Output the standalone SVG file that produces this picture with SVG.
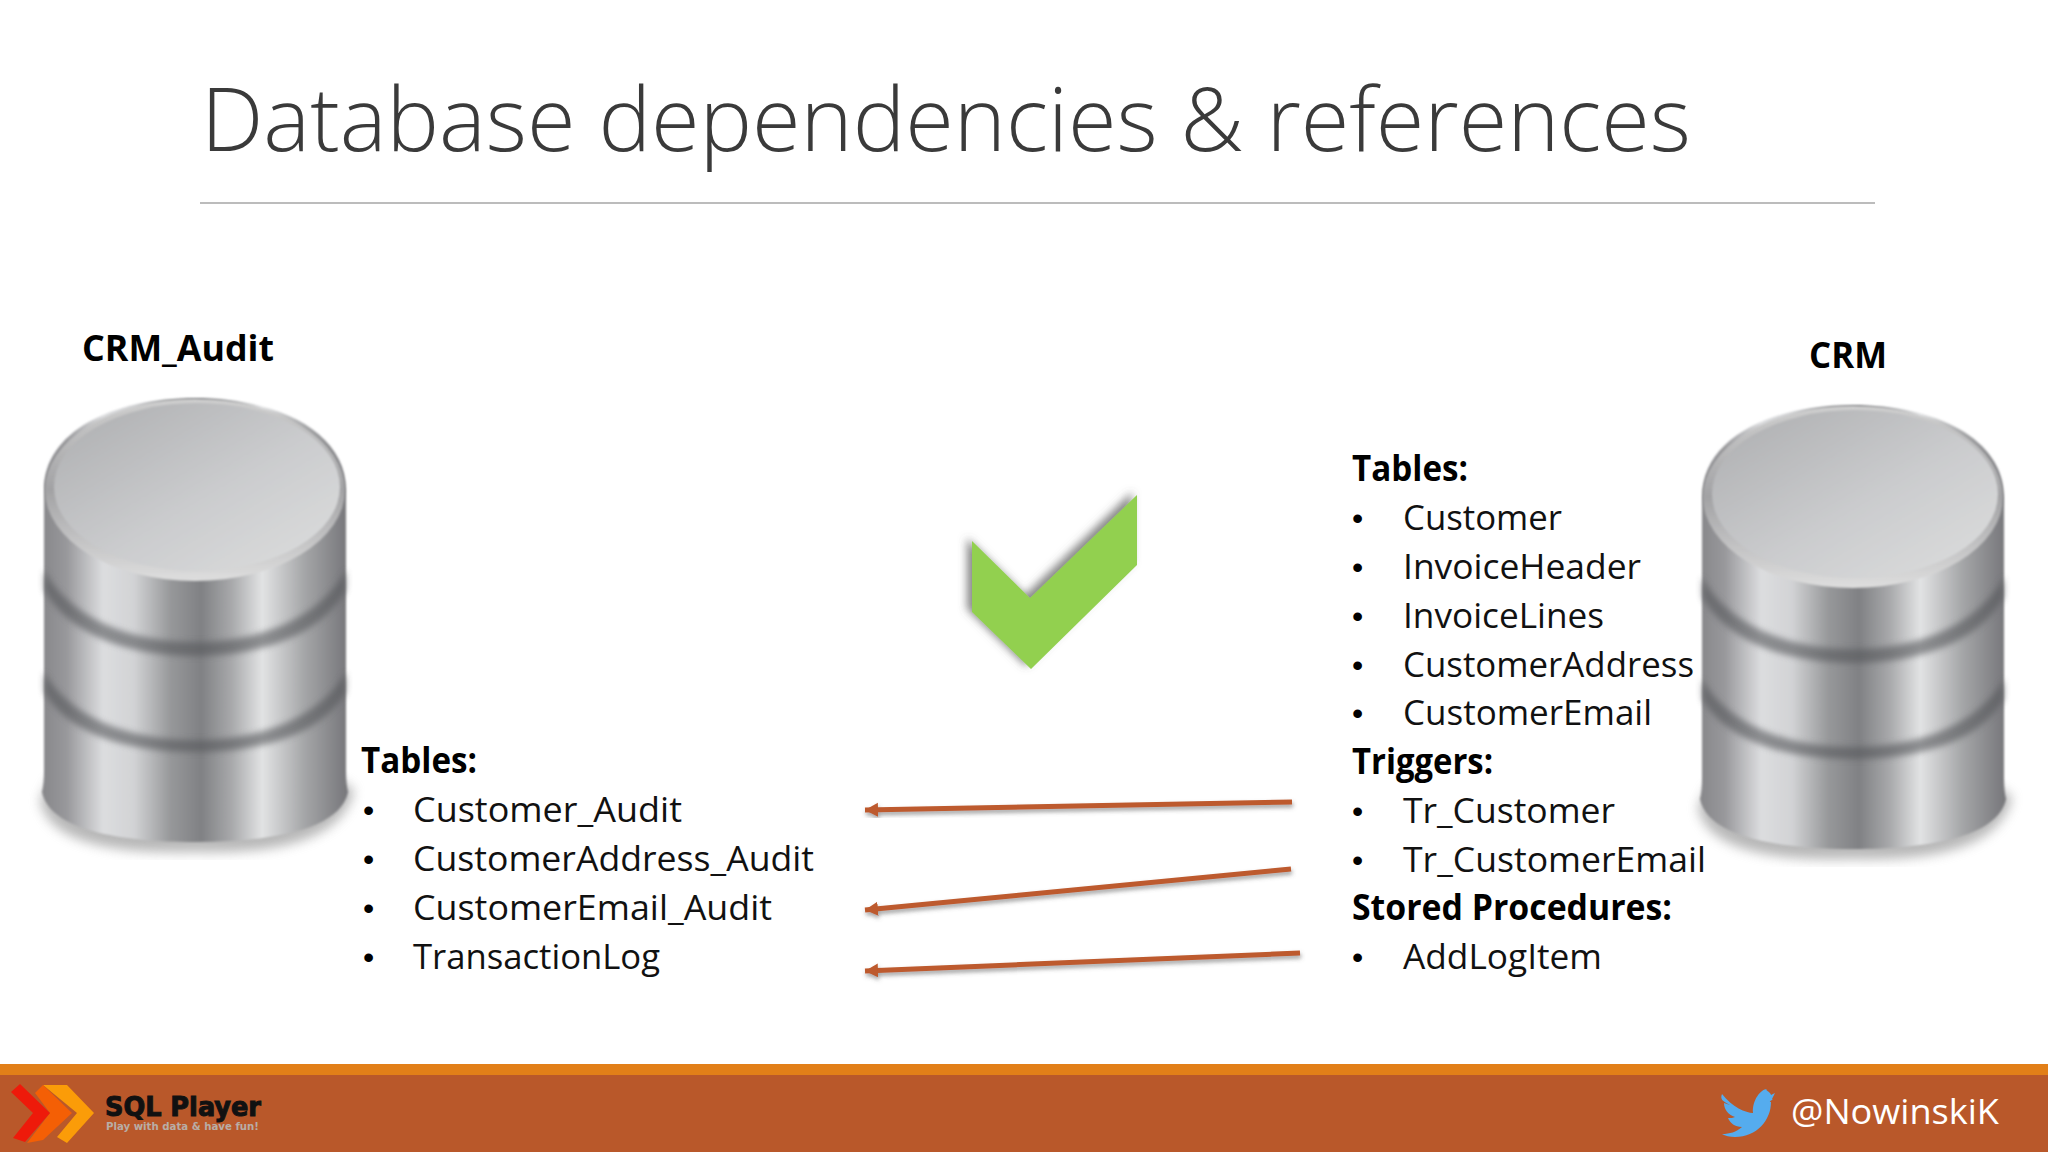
<svg xmlns="http://www.w3.org/2000/svg" width="2048" height="1152" viewBox="0 0 2048 1152">
<style>
.t{font-family:"Open Sans","Noto Sans",sans-serif;font-size:35px;fill:#111}
.b{font-weight:700;fill:#000}
.d{font-family:"Liberation Sans",sans-serif;font-size:32px;fill:#000}
.c{stroke:#bd5a2d;stroke-width:5;fill:none;marker-end:url(#ah);filter:url(#ls)}
</style>
<defs>
<marker id="ah" markerUnits="userSpaceOnUse" markerWidth="16" markerHeight="16" refX="13" refY="7" orient="auto"><path d="M0 7L13 0V14Z" fill="#bd5a2d" transform="rotate(180 6.5 7)"/></marker>
<linearGradient id="m" x1="0" x2="1" y1="0" y2="0">
<stop offset="0" stop-color="#87878a"/><stop offset=".08" stop-color="#98989b"/><stop offset=".2" stop-color="#dcdddf"/><stop offset=".3" stop-color="#d2d3d5"/><stop offset=".42" stop-color="#97989a"/><stop offset=".52" stop-color="#808184"/><stop offset=".62" stop-color="#a8a9ab"/><stop offset=".72" stop-color="#e2e3e4"/><stop offset=".86" stop-color="#a4a5a7"/><stop offset="1" stop-color="#76767a"/>
</linearGradient>
<linearGradient id="top" x1="0" x2="1" y1="0" y2="1"><stop offset="0" stop-color="#acadaf"/><stop offset=".55" stop-color="#cbccce"/><stop offset="1" stop-color="#dddede"/></linearGradient>
<linearGradient id="rim" x1="0" x2="0" y1="0" y2="1"><stop offset="0" stop-color="#cfcfcf"/><stop offset=".5" stop-color="#a2a2a4"/><stop offset="1" stop-color="#dedede"/></linearGradient>
<filter id="ds" x="-10%" y="-10%" width="120%" height="120%"><feGaussianBlur stdDeviation="6"/></filter>
<filter id="s1" x="-5%" y="-5%" width="110%" height="110%"><feGaussianBlur stdDeviation="1.2"/></filter>
<filter id="s2" x="-10%" y="-20%" width="120%" height="140%"><feGaussianBlur stdDeviation="3"/></filter>
<filter id="ls" x="-5%" y="-100%" width="110%" height="300%"><feDropShadow dx="1" dy="3" stdDeviation="2" flood-color="#555" flood-opacity=".55"/></filter>
<filter id="ck" x="-15%" y="-15%" width="130%" height="130%"><feDropShadow dx="-5" dy="-3" stdDeviation="4" flood-color="#555" flood-opacity=".7"/></filter>
<g id="cyl">
<path d="M40 800Q50 856 195 852Q340 856 354 790L340 780H50Z" fill="#888" opacity=".6" filter="url(#ds)"/>
<path d="M44 490C44 432 112 398 195 398S346 432 346 490V770Q346 784 348 792C340 830 270 842 195 842S50 830 42 792Q44 784 44 770Z" fill="url(#m)" filter="url(#s1)"/>
<path d="M44 570C70 618 130 642 195 642S320 618 346 570V590C320 636 260 656 195 656S70 636 44 590Z" fill="#55565a" opacity=".6" filter="url(#s2)"/>
<path d="M44 672C70 718 130 740 195 740S320 718 346 672V692C320 736 260 752 195 752S70 736 44 692Z" fill="#55565a" opacity=".6" filter="url(#s2)"/>
<ellipse cx="195" cy="490" rx="150" ry="91" fill="url(#rim)" filter="url(#s1)"/>
<ellipse cx="197" cy="487" rx="143" ry="84" fill="url(#top)" filter="url(#s1)"/>
</g>
</defs>
<rect width="2048" height="1152" fill="#fff"/>
<text x="201" y="151" font-family="'Open Sans','Noto Sans',sans-serif" font-weight="300" font-size="88" fill="#3a3a3a" textLength="1490" lengthAdjust="spacingAndGlyphs">Database dependencies &amp; references</text>
<line x1="200" y1="203" x2="1875" y2="203" stroke="#a6a6a6" stroke-width="1.5"/>

<g id="crm-audit">
<use href="#cyl"/>
<text class="t b" x="82" y="361" textLength="192" lengthAdjust="spacingAndGlyphs">CRM_Audit</text>
</g>
<g id="crm">
<use href="#cyl" x="1658" y="7"/>
<text class="t b" x="1809" y="368" textLength="78" lengthAdjust="spacingAndGlyphs">CRM</text>
</g>

<g id="audit-list">
<text class="t b" x="361" y="773" textLength="116" lengthAdjust="spacingAndGlyphs">Tables:</text>
<text class="d" x="363" y="821">•</text><text class="t" x="413" y="822" textLength="269" lengthAdjust="spacingAndGlyphs">Customer_Audit</text>
<text class="d" x="363" y="870">•</text><text class="t" x="413" y="871" textLength="401" lengthAdjust="spacingAndGlyphs">CustomerAddress_Audit</text>
<text class="d" x="363" y="919">•</text><text class="t" x="413" y="920" textLength="359" lengthAdjust="spacingAndGlyphs">CustomerEmail_Audit</text>
<text class="d" x="363" y="968">•</text><text class="t" x="413" y="969" textLength="247" lengthAdjust="spacingAndGlyphs">TransactionLog</text>
</g>
<g id="crm-list">
<text class="t b" x="1352" y="481" textLength="116" lengthAdjust="spacingAndGlyphs">Tables:</text>
<text class="d" x="1352" y="529">•</text><text class="t" x="1403" y="530" textLength="159" lengthAdjust="spacingAndGlyphs">Customer</text>
<text class="d" x="1352" y="578">•</text><text class="t" x="1403" y="579" textLength="238" lengthAdjust="spacingAndGlyphs">InvoiceHeader</text>
<text class="d" x="1352" y="627">•</text><text class="t" x="1403" y="628" textLength="201" lengthAdjust="spacingAndGlyphs">InvoiceLines</text>
<text class="d" x="1352" y="676">•</text><text class="t" x="1403" y="677" textLength="291" lengthAdjust="spacingAndGlyphs">CustomerAddress</text>
<text class="d" x="1352" y="724">•</text><text class="t" x="1403" y="725" textLength="249" lengthAdjust="spacingAndGlyphs">CustomerEmail</text>
<text class="t b" x="1352" y="774" textLength="141" lengthAdjust="spacingAndGlyphs">Triggers:</text>
<text class="d" x="1352" y="822">•</text><text class="t" x="1403" y="823" textLength="212" lengthAdjust="spacingAndGlyphs">Tr_Customer</text>
<text class="d" x="1352" y="871">•</text><text class="t" x="1403" y="872" textLength="303" lengthAdjust="spacingAndGlyphs">Tr_CustomerEmail</text>
<text class="t b" x="1352" y="920" textLength="320" lengthAdjust="spacingAndGlyphs">Stored Procedures:</text>
<text class="d" x="1352" y="968">•</text><text class="t" x="1403" y="969" textLength="199" lengthAdjust="spacingAndGlyphs">AddLogItem</text>
</g>

<g id="check">
<path d="M972 541L1030 598L1137 495V565L1031 669L972 612Z" fill="#92d050" filter="url(#ck)"/>
</g>

<g id="connectors">
<line class="c" x1="1292" y1="802" x2="865" y2="810"/>
<line class="c" x1="1291" y1="869" x2="865" y2="910"/>
<line class="c" x1="1300" y1="953" x2="865" y2="971"/>
</g>

<g id="footer">
<rect y="1064" width="2048" height="88" fill="#b9582a"/>
<rect y="1064" width="2048" height="11" fill="#e27f18"/>
<g id="logo">
<path d="M43 1085H67L94 1113L67 1143L57 1137L77 1113Z" fill="#fb9c08"/>
<path d="M35 1093L43 1085L72 1113L43 1140L27 1143L50 1113Z" fill="#f45f05"/>
<path d="M11 1092L20 1084L50 1113L25 1142L13 1138L33 1113Z" fill="#ee1a0a"/>
<text x="105" y="1116" font-family="'DejaVu Sans',sans-serif" font-weight="700" font-size="26" fill="#111" stroke="#111" stroke-width="1" textLength="156" lengthAdjust="spacingAndGlyphs">SQL Player</text>
<text x="106" y="1130" font-family="'DejaVu Sans',sans-serif" font-weight="700" font-size="10" fill="#b8ada6" textLength="153" lengthAdjust="spacingAndGlyphs">Play with data &amp; have fun!</text>
</g>
<g id="twitter">
<path d="M1722 1094C1732 1107 1746 1113 1753 1113C1752 1100 1761 1089 1767 1089C1764 1090 1771 1092 1771 1095L1775 1093L1772 1099C1775 1099 1767 1102 1771 1102C1771 1120 1757 1137 1735 1137C1730 1137 1725 1136 1722 1134C1730 1134 1736 1132 1742 1127C1735 1127 1730 1123 1728 1118C1731 1118 1733 1118 1735 1117C1728 1115 1724 1109 1724 1103C1726 1104 1728 1104 1730 1105C1722 1101 1720 1099 1722 1094Z" fill="#55acee"/>
</g>
<text x="1791" y="1124" font-family="'Open Sans','Noto Sans',sans-serif" font-size="34" fill="#fff" textLength="208" lengthAdjust="spacingAndGlyphs">@NowinskiK</text>
</g>
</svg>
